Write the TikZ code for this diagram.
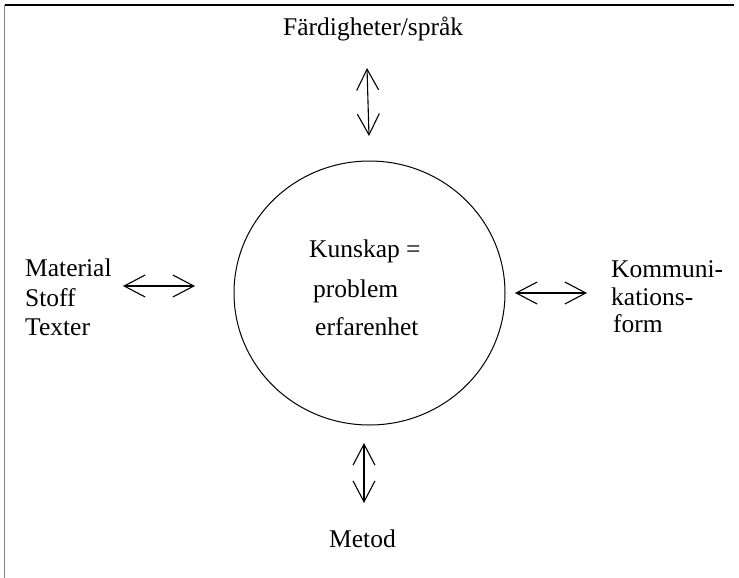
\documentclass[tikz,border=0pt]{standalone}
\usepackage{fontspec}
\setmainfont{Liberation Serif}
\usetikzlibrary{arrows.meta,shapes.geometric}
\begin{document}
\begin{tikzpicture}[x=1pt,y=-1pt,
  lbl/.style={inner sep=0pt,anchor=base west,font=\fontsize{25.5}{30}\selectfont},
  dbl/.style={line width=1.1pt,{Straight Barb[length=21pt,width=22pt,line width=1.1pt]}-{Straight Barb[length=21pt,width=22pt,line width=1.1pt]}}]
\useasboundingbox (0,0) rectangle (739,578);
% frame
\coordinate (ftl) at (4.5,5);
\coordinate (ftr) at (734,5);
\coordinate (fbl) at (4.5,578);
\draw[line width=1.3pt] (ftl) -- (ftr);
\draw[line width=1.6pt,gray] (ftl) -- (fbl);
% circle
\node[draw,line width=1pt,ellipse,minimum width=271pt,minimum height=264pt,inner sep=0pt] (c) at (369.5,293) {};
% texts
\node[lbl] (top) at (283,36) {Färdigheter/språk};
\node[lbl] (k1) at (309,257) {Kunskap =};
\node[lbl] (k2) at (313,297) {problem};
\node[lbl] (k3) at (315,335) {erfarenhet};
\node[lbl] (l1) at (25,276) {Material};
\node[lbl] (l2) at (25,306) {Stoff};
\node[lbl] (l3) at (25,335) {Texter};
\node[lbl] (r1) at (611,277) {Kommuni-};
\node[lbl] (r2) at (611,305) {kations-};
\node[lbl] (r3) at (613,332) {form};
\node[lbl] (bot) at (329,547) {Metod};
% arrow ends
\coordinate (ta) at (367,68);
\coordinate (tb) at (369,136);
\coordinate (ba) at (364,443);
\coordinate (bb) at (364,503);
\coordinate (la) at (123,286);
\coordinate (lb) at (195,286);
\coordinate (ra) at (515,293);
\coordinate (rb) at (587,293);
\draw[dbl] (ta) -- (tb);
\draw[dbl] (ba) -- (bb);
\draw[dbl] (la) -- (lb);
\draw[dbl] (ra) -- (rb);
\end{tikzpicture}
\end{document}
